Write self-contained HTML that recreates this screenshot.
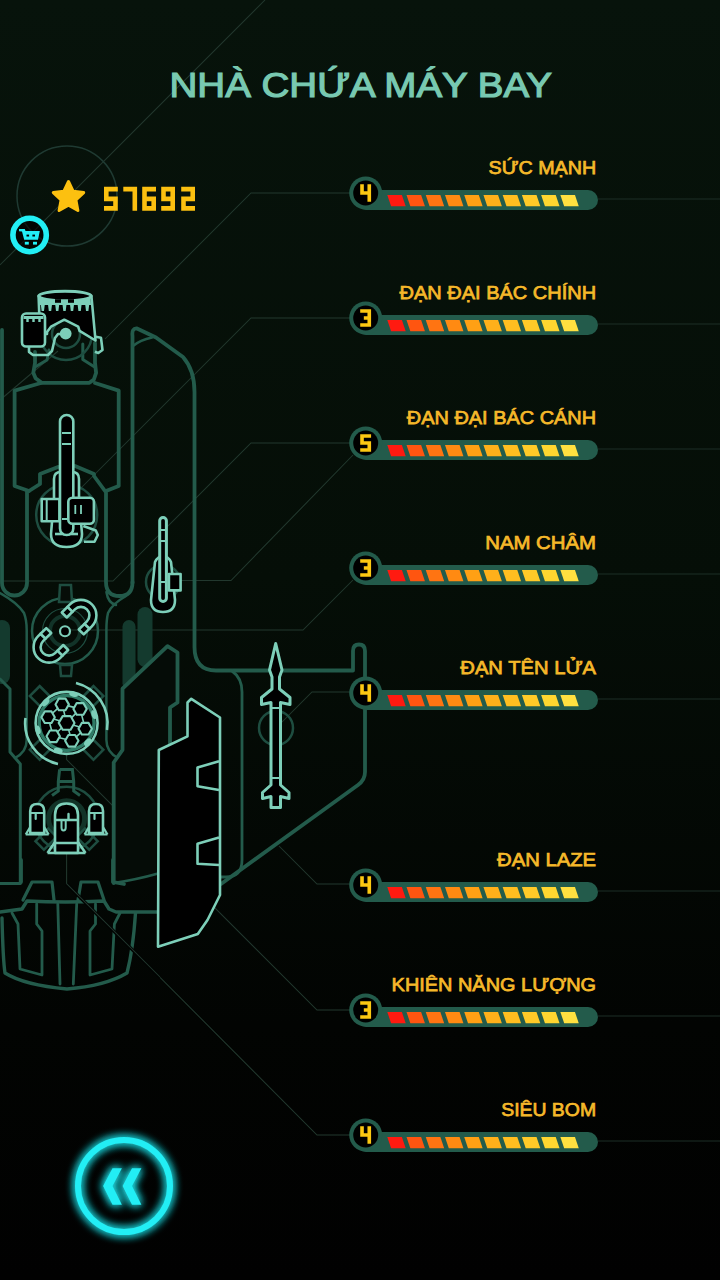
<!DOCTYPE html>
<html><head><meta charset="utf-8"><style>
html,body{margin:0;padding:0;background:#050b07;width:720px;height:1280px;overflow:hidden}
svg{display:block}
.title{font-family:"Liberation Sans",sans-serif;font-weight:normal;font-size:35.5px;fill:#78c9b1;stroke:#78c9b1;stroke-width:1.2}
.lbl{font-family:"Liberation Sans",sans-serif;font-weight:normal;font-size:19.1px;fill:#f5b82a;stroke:#f5b82a;stroke-width:0.75}
</style></head><body>
<svg width="720" height="1280" viewBox="0 0 720 1280">
<defs>
<linearGradient id="bg" x1="0" y1="0" x2="0" y2="1">
<stop offset="0" stop-color="#07130b"/><stop offset="0.45" stop-color="#050e07"/><stop offset="0.8" stop-color="#020402"/><stop offset="1" stop-color="#010101"/>
</linearGradient>
<filter id="glow" x="-50%" y="-50%" width="200%" height="200%">
<feGaussianBlur stdDeviation="5" result="b"/><feMerge><feMergeNode in="b"/><feMergeNode in="b"/><feMergeNode in="SourceGraphic"/></feMerge>
</filter>
</defs>
<rect width="720" height="1280" fill="url(#bg)"/>
<g fill="none" stroke="#22382e" stroke-width="1.05"><path d="M265 0L0 265"/><path d="M350 193H251L105 339"/><path d="M58 351L0 400"/><path d="M350 318H251L65 504"/><path d="M350 443H251L113 581H0"/><path d="M353 455L231 580.5H170"/><path d="M353 580L303 630H60"/><path d="M350 692H312L277 727"/><path d="M350 884H317L279 846"/><path d="M350 1010H317L66.6 759.6V752"/><path d="M350 1135H317L66.6 883.6V840"/></g><path d="M598 199H720M598 324H720M598 449H720M598 574H720M598 699H720M598 891H720M598 1016H720M598 1141H720" fill="none" stroke="#1c2f27" stroke-width="1.05"/><g fill="#143a2e"><rect x="-6" y="620" width="16" height="64" rx="8"/><rect x="122.5" y="620" width="13" height="70" rx="6.5"/><rect x="137.5" y="607" width="15" height="60" rx="7.5"/></g><g fill="none" stroke="#235b4b" stroke-width="3.8" stroke-linejoin="round" stroke-linecap="round"><path d="M2 330V583A12.5 12.5 0 0 0 27 583V491"/><path d="M41 383L14.6 390.6V486L29 491"/><path d="M95 383L118.7 390.6V486L106 491V582Q106 596 119.5 596Q132.5 596 132.5 582"/><path d="M35 352V363L33.3 372.8L35.6 378.3L41.7 382.8H89.4L93.9 379.4L96.1 372.8L95 362.8V343"/><path d="M82.8 344V359.4L95 367.2M35 367L47 360L49 350" stroke-width="3"/><path d="M29 491L40 484V474L58 467"/><path d="M105 491L94 476V474L75 466"/><path d="M132.5 583V336Q131.5 328 137 328.5L156 337.5L183 357Q194.5 370 194.5 392V647Q194.5 670.5 216 670.5H353V651Q353 644.5 359 644.5Q365 644.5 365 651V772Q365 780 358 785L221 884"/><path d="M133 346Q140 340 152 337.5" stroke-width="2.5"/><path d="M232 671Q242 678 242 692V860Q242 877 226 877H218" stroke-width="2.8"/><path d="M0 593Q18 603 24 613Q26.7 620 26.7 630V740Q26.7 752 15 758" stroke-width="2.5"/><path d="M126 596Q112 604 108 613Q106.4 620 106.4 630V740Q106.4 752 118 758M106.4 592Q108 603 116 605" stroke-width="2.5"/><path d="M0 679L10 689V752L20.3 764V883.5H0" stroke-width="3"/><path d="M113.7 883V762.5L122.5 750V688.7L167.5 646.2L177.5 652.5V702.5L170 707.5V760L160 873Q135 880 113.7 883Z" fill="#050c07" stroke="none"/><path d="M113.7 883V762.5L122.5 750V688.7L167.5 646.2L177.5 652.5V702.5L170 707.5V760"/><path d="M113.7 883Q135 880 160 873" stroke-width="2.5"/><path d="M21 860V882M113 860V882L124 884"/><path d="M23 900L32 882H52L54 900M78 900L81 882H98L104 900" stroke-width="3.2"/><path d="M0 912L22 909L27 901Q65 903 104 901L109 909L116 912H160" stroke-width="3.4"/><path d="M2 918Q3 960 5 973Q24 985 67 989Q105 986 127 973Q133 950 135.5 913" stroke-width="3.4"/><path d="M12 913L18 924L20 969L42 975V931L36.7 924V904M57.8 904L60 984M76.7 904L73.3 984M95.5 904V924L90 931V975L112 969L114.4 924L120 913" stroke-width="2.8"/></g><path d="M66.6 884L160 977.4" stroke="#010302" stroke-width="3.2"/><g fill="none" stroke="#1e4d40" stroke-width="2.5"><circle cx="66" cy="334" r="14"/><circle cx="66" cy="334" r="26"/><circle cx="66.7" cy="515" r="30.5"/><circle cx="163" cy="582" r="17"/><circle cx="65" cy="631" r="33" stroke="#235b4b"/><circle cx="65" cy="631" r="22.5" stroke-width="1.2"/><circle cx="65" cy="631" r="15" stroke="#123328" stroke-width="4"/><circle cx="276" cy="728" r="17"/><circle cx="66.6" cy="818.7" r="32"/><circle cx="66.6" cy="818.7" r="18" stroke="#123328" stroke-width="5"/><path d="M60 585H71L72 602H59Z M60 665H72L71 676H61Z" fill="#060d08"/><path d="M59.6 769.5H72.4L73.7 781.6V791L80 795.5M59.6 769.5L58.3 781.6V791L52 795.5M58.3 781.6H73.7" stroke="#235b4b" stroke-width="3"/><g transform="translate(66.6 722.9) rotate(45)"><rect x="-45" y="-7" width="90" height="14"/><rect x="-7" y="-45" width="14" height="90"/></g><g transform="translate(66.6 818.7) rotate(45)"><rect x="20" y="-6" width="18" height="12"/><rect x="-6" y="20" width="12" height="18"/></g></g><g fill="#000" stroke="#7dcfb9" stroke-width="2.6" stroke-linejoin="round"><path d="M38.6 296L40 334H47V332L51 326.7L64.3 319.7L78.2 326.7L79.6 330.8L95.5 340.5L91.4 296Z"/><ellipse cx="65" cy="296" rx="26.2" ry="4.8" stroke-width="3"/><path d="M40 297.5Q65 305 90.5 297.5L91 305H39.8Z" fill="#7dcfb9" stroke="none"/><rect x="55" y="299.2" width="6" height="3.6" fill="#000" stroke="none"/><rect x="68" y="299.2" width="6" height="3.6" fill="#000" stroke="none"/><path d="M40.8 304.5L44.8 304.5L44.0 311L41.6 311ZM48.0 304.5L52.0 304.5L51.2 311L48.8 311ZM55.2 304.5L59.2 304.5L58.4 311L56.0 311ZM62.5 304.5L66.5 304.5L65.7 311L63.3 311ZM70.0 304.5L74.0 304.5L73.2 311L70.8 311ZM77.6 304.5L81.6 304.5L80.8 311L78.4 311ZM85.2 304.5L89.2 304.5L88.4 311L86.0 311Z" fill="#7dcfb9" stroke="none"/><path d="M94.2 336.4L101 337.8L102.5 350L98.3 353L94.9 351.7" fill="none"/><rect x="22" y="313.5" width="23" height="33" rx="4"/><path d="M23.5 317.5H43.5" stroke-width="3"/><path d="M27.5 318V322M33.5 318V322M39.5 318V322" stroke-width="2.4"/><path d="M29 346V352L33 355H48L52 351L55 338L58 334H62" fill="none"/><circle cx="65.7" cy="333.6" r="4.6" fill="#7dcfb9"/><path d="M54 498V479Q54 472 61 472H72Q79 472 79 479V498L82 534Q82 547 66.5 547Q51 547 51 534Z"/><path d="M55 534H78" fill="none"/><rect x="60" y="415" width="13.3" height="120" rx="6.6"/><path d="M62 433H71M62 444H71M62 519H71" stroke-width="2"/><rect x="41.7" y="499" width="17.7" height="22.2"/><path d="M46.7 499V521" stroke-width="2"/><rect x="68.3" y="497.8" width="25.6" height="26" rx="4"/><path d="M75.3 505V514M81 505V514" stroke-width="1.8"/><path d="M83.3 526L95.8 530.5L97.8 535L94.5 541.7H84" fill="none"/><path d="M155 562Q158 556 163 556Q168 556 171 562L175 600Q175 612 163 612Q151 612 151 600Z"/><rect x="168.9" y="574" width="11.7" height="16.4"/><rect x="159.7" y="517.5" width="6.7" height="84" rx="3.3" stroke-width="3"/><path d="M160 530H166.5M160 541H166.5M160 582H166.5" stroke-width="2"/><g transform="translate(65 631.25) rotate(45)"><path d="M-15.5 -19V-22.5A15.5 15.5 0 0 1 15.5 -22.5V-19H8.5V-22.5A8.5 8.5 0 0 0 -8.5 -22.5V-19Z"/><rect x="-15.5" y="-19" width="7" height="8"/><rect x="8.5" y="-19" width="7" height="8"/></g><g transform="translate(65 631.25) rotate(225)"><path d="M-15.5 -19V-22.5A15.5 15.5 0 0 1 15.5 -22.5V-19H8.5V-22.5A8.5 8.5 0 0 0 -8.5 -22.5V-19Z"/><rect x="-15.5" y="-19" width="7" height="8"/><rect x="8.5" y="-19" width="7" height="8"/></g><circle cx="65" cy="631.25" r="5" stroke-width="2.2"/><circle cx="66.6" cy="722.9" r="31"/><circle cx="66.6" cy="722.9" r="27.5" fill="none" stroke="#2f7b66" stroke-width="3.5"/><path d="M62.2 704.4L80.1 708.9M62.2 704.4L48.1 717.2M62.2 704.4L66.6 722.9M80.1 708.9L66.6 722.9M80.1 708.9L85.2 728.7M48.1 717.2L66.6 722.9M48.1 717.2L53.2 736.3M66.6 722.9L85.2 728.7M66.6 722.9L53.2 736.3M66.6 722.9L71.8 740.8M85.2 728.7L71.8 740.8M53.2 736.3L71.8 740.8" stroke-width="1.6" fill="none"/><polygon points="68.9,704.4 65.5,710.2 58.8,710.2 55.5,704.4 58.8,698.6 65.5,698.6" stroke-width="2.1"/><polygon points="86.8,708.9 83.4,714.7 76.7,714.7 73.4,708.9 76.7,703.1 83.4,703.1" stroke-width="2.1"/><polygon points="54.8,717.2 51.5,723.0 44.8,723.0 41.4,717.2 44.8,711.4 51.5,711.4" stroke-width="2.1"/><polygon points="74.5,722.9 70.6,729.8 62.7,729.8 58.7,722.9 62.7,716.1 70.6,716.1" stroke-width="2.1"/><polygon points="91.9,728.7 88.5,734.5 81.8,734.5 78.5,728.7 81.8,722.9 88.5,722.9" stroke-width="2.1"/><polygon points="59.9,736.3 56.6,742.1 49.9,742.1 46.5,736.3 49.9,730.5 56.6,730.5" stroke-width="2.1"/><polygon points="78.5,740.8 75.1,746.6 68.4,746.6 65.1,740.8 68.4,735.0 75.1,735.0" stroke-width="2.1"/><ellipse cx="73.7" cy="694.2" rx="4.5" ry="2.6" transform="rotate(14 73.7 694.2)" fill="#7dcfb9" stroke="none"/><ellipse cx="45.6" cy="702.5" rx="4.5" ry="2.6" transform="rotate(-46 45.6 702.5)" fill="#7dcfb9" stroke="none"/><ellipse cx="94.1" cy="714.6" rx="4.5" ry="2.6" transform="rotate(73 94.1 714.6)" fill="#7dcfb9" stroke="none"/><ellipse cx="37.9" cy="729.9" rx="4.5" ry="2.6" transform="rotate(256 37.9 729.9)" fill="#7dcfb9" stroke="none"/><ellipse cx="87.7" cy="742.1" rx="4.5" ry="2.6" transform="rotate(132 87.7 742.1)" fill="#7dcfb9" stroke="none"/><ellipse cx="58.3" cy="750.4" rx="4.5" ry="2.6" transform="rotate(197 58.3 750.4)" fill="#7dcfb9" stroke="none"/><path d="M76 683A41.5 41.5 0 0 1 107 730" fill="none" stroke-width="2.6"/><path d="M25.5 718A41.5 41.5 0 0 0 58 764" fill="none" stroke-width="2.6"/><path d="M55 853V815Q55 803.5 66.5 803.5Q78 803.5 78 815V853Z"/><path d="M55 820H78M55 843H78M47.5 853L55 842M85.5 853L78 842M47.5 853H85.5" fill="none"/><path d="M61.5 820V827.5Q61.5 830.5 63.5 830.5Q65.7 830.5 65.7 827.5V820" fill="none" stroke-width="2"/><path d="M68.5 814V819" stroke-width="2.4" stroke-linecap="round"/><path d="M30.2 833V811Q30.2 804 37.2 804Q44.2 804 44.2 811V833Z"/><path d="M30.2 813H44.2M25.7 834.5L30.2 827M48.7 834.5L44.2 827M25.7 834.5H48.7" fill="none" stroke-width="2.2"/><path d="M35.7 813V819" stroke-width="2.2" stroke-linecap="round"/><path d="M89 833V811Q89 804 96 804Q103 804 103 811V833Z"/><path d="M89 813H103M84.5 834.5L89 827M107.5 834.5L103 827M84.5 834.5H107.5" fill="none" stroke-width="2.2"/><path d="M94.5 813V819" stroke-width="2.2" stroke-linecap="round"/><path d="M275.7 643.5L282 670L279.5 677V689L290 697.5V704.5L280.5 702.5V785L289 792.5V798.5L280.5 796.5V807.5H271V796.5L262.5 798.5V792.5L271 785V702.5L261.5 704.5V697.5L272 689V677L269.5 670Z" stroke-width="3"/><path d="M272 708H280M272 778H280" stroke-width="2"/><path d="M158.8 750L187.5 736.3V702.5L191.3 698.8L220 717.5V895L207.5 920L197.8 934L158 946.7Z"/><path d="M219 761.3L197.5 767.5V786.3L219 790M219 837.5L197.5 843.8V863.8L219 865" fill="none"/></g><path d="M66.6 883.6L160 977" fill="none" stroke="#22382e" stroke-width="1.05"/><rect x="356" y="190" width="242" height="20" rx="10" fill="#235b4b"/><circle cx="365.7" cy="193" r="16.5" fill="#235b4b"/><circle cx="365.7" cy="193" r="12.5" fill="#000"/><path d="M360.20 184.20h3.63v3.52h-3.63zM367.46 184.20h3.63v3.52h-3.63zM360.20 187.72h3.63v3.52h-3.63zM367.46 187.72h3.63v3.52h-3.63zM360.20 191.24h3.63v3.52h-3.63zM363.83 191.24h3.63v3.52h-3.63zM367.46 191.24h3.63v3.52h-3.63zM367.46 194.76h3.63v3.52h-3.63zM367.46 198.28h3.63v3.52h-3.63z" fill="#fcc812"/><path d="M387.30 195h14.6l3.8 11.3h-14.6z" fill="#ff1a10"/><path d="M406.53 195h14.6l3.8 11.3h-14.6z" fill="#ff5510"/><path d="M425.76 195h14.6l3.8 11.3h-14.6z" fill="#ff7412"/><path d="M444.99 195h14.6l3.8 11.3h-14.6z" fill="#ff8a12"/><path d="M464.22 195h14.6l3.8 11.3h-14.6z" fill="#ffa014"/><path d="M483.45 195h14.6l3.8 11.3h-14.6z" fill="#ffb01a"/><path d="M502.68 195h14.6l3.8 11.3h-14.6z" fill="#ffbe20"/><path d="M521.91 195h14.6l3.8 11.3h-14.6z" fill="#ffca28"/><path d="M541.14 195h14.6l3.8 11.3h-14.6z" fill="#ffd630"/><path d="M560.37 195h14.6l3.8 11.3h-14.6z" fill="#ffe040"/><text x="488.5" y="173.7" class="lbl" textLength="107.6" lengthAdjust="spacingAndGlyphs">SỨC MẠNH</text><rect x="356" y="315" width="242" height="20" rx="10" fill="#235b4b"/><circle cx="365.7" cy="318" r="16.5" fill="#235b4b"/><circle cx="365.7" cy="318" r="12.5" fill="#000"/><path d="M360.20 309.20h3.63v3.52h-3.63zM363.83 309.20h3.63v3.52h-3.63zM367.46 309.20h3.63v3.52h-3.63zM367.46 312.72h3.63v3.52h-3.63zM363.83 316.24h3.63v3.52h-3.63zM367.46 316.24h3.63v3.52h-3.63zM367.46 319.76h3.63v3.52h-3.63zM360.20 323.28h3.63v3.52h-3.63zM363.83 323.28h3.63v3.52h-3.63zM367.46 323.28h3.63v3.52h-3.63z" fill="#fcc812"/><path d="M387.30 320h14.6l3.8 11.3h-14.6z" fill="#ff1a10"/><path d="M406.53 320h14.6l3.8 11.3h-14.6z" fill="#ff5510"/><path d="M425.76 320h14.6l3.8 11.3h-14.6z" fill="#ff7412"/><path d="M444.99 320h14.6l3.8 11.3h-14.6z" fill="#ff8a12"/><path d="M464.22 320h14.6l3.8 11.3h-14.6z" fill="#ffa014"/><path d="M483.45 320h14.6l3.8 11.3h-14.6z" fill="#ffb01a"/><path d="M502.68 320h14.6l3.8 11.3h-14.6z" fill="#ffbe20"/><path d="M521.91 320h14.6l3.8 11.3h-14.6z" fill="#ffca28"/><path d="M541.14 320h14.6l3.8 11.3h-14.6z" fill="#ffd630"/><path d="M560.37 320h14.6l3.8 11.3h-14.6z" fill="#ffe040"/><text x="399.5" y="298.7" class="lbl" textLength="196.6" lengthAdjust="spacingAndGlyphs">ĐẠN ĐẠI BÁC CHÍNH</text><rect x="356" y="440" width="242" height="20" rx="10" fill="#235b4b"/><circle cx="365.7" cy="443" r="16.5" fill="#235b4b"/><circle cx="365.7" cy="443" r="12.5" fill="#000"/><path d="M360.20 434.20h3.63v3.52h-3.63zM363.83 434.20h3.63v3.52h-3.63zM367.46 434.20h3.63v3.52h-3.63zM360.20 437.72h3.63v3.52h-3.63zM360.20 441.24h3.63v3.52h-3.63zM363.83 441.24h3.63v3.52h-3.63zM367.46 441.24h3.63v3.52h-3.63zM367.46 444.76h3.63v3.52h-3.63zM360.20 448.28h3.63v3.52h-3.63zM363.83 448.28h3.63v3.52h-3.63zM367.46 448.28h3.63v3.52h-3.63z" fill="#fcc812"/><path d="M387.30 445h14.6l3.8 11.3h-14.6z" fill="#ff1a10"/><path d="M406.53 445h14.6l3.8 11.3h-14.6z" fill="#ff5510"/><path d="M425.76 445h14.6l3.8 11.3h-14.6z" fill="#ff7412"/><path d="M444.99 445h14.6l3.8 11.3h-14.6z" fill="#ff8a12"/><path d="M464.22 445h14.6l3.8 11.3h-14.6z" fill="#ffa014"/><path d="M483.45 445h14.6l3.8 11.3h-14.6z" fill="#ffb01a"/><path d="M502.68 445h14.6l3.8 11.3h-14.6z" fill="#ffbe20"/><path d="M521.91 445h14.6l3.8 11.3h-14.6z" fill="#ffca28"/><path d="M541.14 445h14.6l3.8 11.3h-14.6z" fill="#ffd630"/><path d="M560.37 445h14.6l3.8 11.3h-14.6z" fill="#ffe040"/><text x="406.8" y="423.7" class="lbl" textLength="189.3" lengthAdjust="spacingAndGlyphs">ĐẠN ĐẠI BÁC CÁNH</text><rect x="356" y="565" width="242" height="20" rx="10" fill="#235b4b"/><circle cx="365.7" cy="568" r="16.5" fill="#235b4b"/><circle cx="365.7" cy="568" r="12.5" fill="#000"/><path d="M360.20 559.20h3.63v3.52h-3.63zM363.83 559.20h3.63v3.52h-3.63zM367.46 559.20h3.63v3.52h-3.63zM367.46 562.72h3.63v3.52h-3.63zM363.83 566.24h3.63v3.52h-3.63zM367.46 566.24h3.63v3.52h-3.63zM367.46 569.76h3.63v3.52h-3.63zM360.20 573.28h3.63v3.52h-3.63zM363.83 573.28h3.63v3.52h-3.63zM367.46 573.28h3.63v3.52h-3.63z" fill="#fcc812"/><path d="M387.30 570h14.6l3.8 11.3h-14.6z" fill="#ff1a10"/><path d="M406.53 570h14.6l3.8 11.3h-14.6z" fill="#ff5510"/><path d="M425.76 570h14.6l3.8 11.3h-14.6z" fill="#ff7412"/><path d="M444.99 570h14.6l3.8 11.3h-14.6z" fill="#ff8a12"/><path d="M464.22 570h14.6l3.8 11.3h-14.6z" fill="#ffa014"/><path d="M483.45 570h14.6l3.8 11.3h-14.6z" fill="#ffb01a"/><path d="M502.68 570h14.6l3.8 11.3h-14.6z" fill="#ffbe20"/><path d="M521.91 570h14.6l3.8 11.3h-14.6z" fill="#ffca28"/><path d="M541.14 570h14.6l3.8 11.3h-14.6z" fill="#ffd630"/><path d="M560.37 570h14.6l3.8 11.3h-14.6z" fill="#ffe040"/><text x="485.2" y="548.7" class="lbl" textLength="110.9" lengthAdjust="spacingAndGlyphs">NAM CHÂM</text><rect x="356" y="690" width="242" height="20" rx="10" fill="#235b4b"/><circle cx="365.7" cy="693" r="16.5" fill="#235b4b"/><circle cx="365.7" cy="693" r="12.5" fill="#000"/><path d="M360.20 684.20h3.63v3.52h-3.63zM367.46 684.20h3.63v3.52h-3.63zM360.20 687.72h3.63v3.52h-3.63zM367.46 687.72h3.63v3.52h-3.63zM360.20 691.24h3.63v3.52h-3.63zM363.83 691.24h3.63v3.52h-3.63zM367.46 691.24h3.63v3.52h-3.63zM367.46 694.76h3.63v3.52h-3.63zM367.46 698.28h3.63v3.52h-3.63z" fill="#fcc812"/><path d="M387.30 695h14.6l3.8 11.3h-14.6z" fill="#ff1a10"/><path d="M406.53 695h14.6l3.8 11.3h-14.6z" fill="#ff5510"/><path d="M425.76 695h14.6l3.8 11.3h-14.6z" fill="#ff7412"/><path d="M444.99 695h14.6l3.8 11.3h-14.6z" fill="#ff8a12"/><path d="M464.22 695h14.6l3.8 11.3h-14.6z" fill="#ffa014"/><path d="M483.45 695h14.6l3.8 11.3h-14.6z" fill="#ffb01a"/><path d="M502.68 695h14.6l3.8 11.3h-14.6z" fill="#ffbe20"/><path d="M521.91 695h14.6l3.8 11.3h-14.6z" fill="#ffca28"/><path d="M541.14 695h14.6l3.8 11.3h-14.6z" fill="#ffd630"/><path d="M560.37 695h14.6l3.8 11.3h-14.6z" fill="#ffe040"/><text x="460.3" y="673.7" class="lbl" textLength="135.8" lengthAdjust="spacingAndGlyphs">ĐẠN TÊN LỬA</text><rect x="356" y="882" width="242" height="20" rx="10" fill="#235b4b"/><circle cx="365.7" cy="885" r="16.5" fill="#235b4b"/><circle cx="365.7" cy="885" r="12.5" fill="#000"/><path d="M360.20 876.20h3.63v3.52h-3.63zM367.46 876.20h3.63v3.52h-3.63zM360.20 879.72h3.63v3.52h-3.63zM367.46 879.72h3.63v3.52h-3.63zM360.20 883.24h3.63v3.52h-3.63zM363.83 883.24h3.63v3.52h-3.63zM367.46 883.24h3.63v3.52h-3.63zM367.46 886.76h3.63v3.52h-3.63zM367.46 890.28h3.63v3.52h-3.63z" fill="#fcc812"/><path d="M387.30 887h14.6l3.8 11.3h-14.6z" fill="#ff1a10"/><path d="M406.53 887h14.6l3.8 11.3h-14.6z" fill="#ff5510"/><path d="M425.76 887h14.6l3.8 11.3h-14.6z" fill="#ff7412"/><path d="M444.99 887h14.6l3.8 11.3h-14.6z" fill="#ff8a12"/><path d="M464.22 887h14.6l3.8 11.3h-14.6z" fill="#ffa014"/><path d="M483.45 887h14.6l3.8 11.3h-14.6z" fill="#ffb01a"/><path d="M502.68 887h14.6l3.8 11.3h-14.6z" fill="#ffbe20"/><path d="M521.91 887h14.6l3.8 11.3h-14.6z" fill="#ffca28"/><path d="M541.14 887h14.6l3.8 11.3h-14.6z" fill="#ffd630"/><path d="M560.37 887h14.6l3.8 11.3h-14.6z" fill="#ffe040"/><text x="497.0" y="865.7" class="lbl" textLength="99.1" lengthAdjust="spacingAndGlyphs">ĐẠN LAZE</text><rect x="356" y="1007" width="242" height="20" rx="10" fill="#235b4b"/><circle cx="365.7" cy="1010" r="16.5" fill="#235b4b"/><circle cx="365.7" cy="1010" r="12.5" fill="#000"/><path d="M360.20 1001.20h3.63v3.52h-3.63zM363.83 1001.20h3.63v3.52h-3.63zM367.46 1001.20h3.63v3.52h-3.63zM367.46 1004.72h3.63v3.52h-3.63zM363.83 1008.24h3.63v3.52h-3.63zM367.46 1008.24h3.63v3.52h-3.63zM367.46 1011.76h3.63v3.52h-3.63zM360.20 1015.28h3.63v3.52h-3.63zM363.83 1015.28h3.63v3.52h-3.63zM367.46 1015.28h3.63v3.52h-3.63z" fill="#fcc812"/><path d="M387.30 1012h14.6l3.8 11.3h-14.6z" fill="#ff1a10"/><path d="M406.53 1012h14.6l3.8 11.3h-14.6z" fill="#ff5510"/><path d="M425.76 1012h14.6l3.8 11.3h-14.6z" fill="#ff7412"/><path d="M444.99 1012h14.6l3.8 11.3h-14.6z" fill="#ff8a12"/><path d="M464.22 1012h14.6l3.8 11.3h-14.6z" fill="#ffa014"/><path d="M483.45 1012h14.6l3.8 11.3h-14.6z" fill="#ffb01a"/><path d="M502.68 1012h14.6l3.8 11.3h-14.6z" fill="#ffbe20"/><path d="M521.91 1012h14.6l3.8 11.3h-14.6z" fill="#ffca28"/><path d="M541.14 1012h14.6l3.8 11.3h-14.6z" fill="#ffd630"/><path d="M560.37 1012h14.6l3.8 11.3h-14.6z" fill="#ffe040"/><text x="391.6" y="990.7" class="lbl" textLength="204.5" lengthAdjust="spacingAndGlyphs">KHIÊN NĂNG LƯỢNG</text><rect x="356" y="1132" width="242" height="20" rx="10" fill="#235b4b"/><circle cx="365.7" cy="1135" r="16.5" fill="#235b4b"/><circle cx="365.7" cy="1135" r="12.5" fill="#000"/><path d="M360.20 1126.20h3.63v3.52h-3.63zM367.46 1126.20h3.63v3.52h-3.63zM360.20 1129.72h3.63v3.52h-3.63zM367.46 1129.72h3.63v3.52h-3.63zM360.20 1133.24h3.63v3.52h-3.63zM363.83 1133.24h3.63v3.52h-3.63zM367.46 1133.24h3.63v3.52h-3.63zM367.46 1136.76h3.63v3.52h-3.63zM367.46 1140.28h3.63v3.52h-3.63z" fill="#fcc812"/><path d="M387.30 1137h14.6l3.8 11.3h-14.6z" fill="#ff1a10"/><path d="M406.53 1137h14.6l3.8 11.3h-14.6z" fill="#ff5510"/><path d="M425.76 1137h14.6l3.8 11.3h-14.6z" fill="#ff7412"/><path d="M444.99 1137h14.6l3.8 11.3h-14.6z" fill="#ff8a12"/><path d="M464.22 1137h14.6l3.8 11.3h-14.6z" fill="#ffa014"/><path d="M483.45 1137h14.6l3.8 11.3h-14.6z" fill="#ffb01a"/><path d="M502.68 1137h14.6l3.8 11.3h-14.6z" fill="#ffbe20"/><path d="M521.91 1137h14.6l3.8 11.3h-14.6z" fill="#ffca28"/><path d="M541.14 1137h14.6l3.8 11.3h-14.6z" fill="#ffd630"/><path d="M560.37 1137h14.6l3.8 11.3h-14.6z" fill="#ffe040"/><text x="501.2" y="1115.7" class="lbl" textLength="94.9" lengthAdjust="spacingAndGlyphs">SIÊU BOM</text><text x="169.5" y="97" class="title" textLength="382.5" lengthAdjust="spacingAndGlyphs">NHÀ CHỨA MÁY BAY</text><circle cx="67" cy="196" r="50" fill="none" stroke="#1f3a32" stroke-width="1.5"/><polygon points="68.50,181.50 73.08,191.19 83.72,192.56 75.92,199.91 77.90,210.44 68.50,205.30 59.10,210.44 61.08,199.91 53.28,192.56 63.92,191.19" fill="#fcc010" stroke="#fcc010" stroke-width="3" stroke-linejoin="round"/><path d="M104.00 186.80h4.60v4.80h-4.60zM108.60 186.80h4.60v4.80h-4.60zM113.20 186.80h4.60v4.80h-4.60zM104.00 191.60h4.60v4.80h-4.60zM104.00 196.40h4.60v4.80h-4.60zM108.60 196.40h4.60v4.80h-4.60zM113.20 196.40h4.60v4.80h-4.60zM113.20 201.20h4.60v4.80h-4.60zM104.00 206.00h4.60v4.80h-4.60zM108.60 206.00h4.60v4.80h-4.60zM113.20 206.00h4.60v4.80h-4.60z" fill="#fcc010"/><path d="M123.30 186.80h4.60v4.80h-4.60zM127.90 186.80h4.60v4.80h-4.60zM132.50 186.80h4.60v4.80h-4.60zM132.50 191.60h4.60v4.80h-4.60zM132.50 196.40h4.60v4.80h-4.60zM132.50 201.20h4.60v4.80h-4.60zM132.50 206.00h4.60v4.80h-4.60z" fill="#fcc010"/><path d="M142.20 186.80h4.60v4.80h-4.60zM146.80 186.80h4.60v4.80h-4.60zM151.40 186.80h4.60v4.80h-4.60zM142.20 191.60h4.60v4.80h-4.60zM142.20 196.40h4.60v4.80h-4.60zM146.80 196.40h4.60v4.80h-4.60zM151.40 196.40h4.60v4.80h-4.60zM142.20 201.20h4.60v4.80h-4.60zM151.40 201.20h4.60v4.80h-4.60zM142.20 206.00h4.60v4.80h-4.60zM146.80 206.00h4.60v4.80h-4.60zM151.40 206.00h4.60v4.80h-4.60z" fill="#fcc010"/><path d="M161.20 186.80h4.60v4.80h-4.60zM165.80 186.80h4.60v4.80h-4.60zM170.40 186.80h4.60v4.80h-4.60zM161.20 191.60h4.60v4.80h-4.60zM170.40 191.60h4.60v4.80h-4.60zM161.20 196.40h4.60v4.80h-4.60zM165.80 196.40h4.60v4.80h-4.60zM170.40 196.40h4.60v4.80h-4.60zM170.40 201.20h4.60v4.80h-4.60zM161.20 206.00h4.60v4.80h-4.60zM165.80 206.00h4.60v4.80h-4.60zM170.40 206.00h4.60v4.80h-4.60z" fill="#fcc010"/><path d="M181.20 186.80h4.60v4.80h-4.60zM185.80 186.80h4.60v4.80h-4.60zM190.40 186.80h4.60v4.80h-4.60zM190.40 191.60h4.60v4.80h-4.60zM181.20 196.40h4.60v4.80h-4.60zM185.80 196.40h4.60v4.80h-4.60zM190.40 196.40h4.60v4.80h-4.60zM181.20 201.20h4.60v4.80h-4.60zM181.20 206.00h4.60v4.80h-4.60zM185.80 206.00h4.60v4.80h-4.60zM190.40 206.00h4.60v4.80h-4.60z" fill="#fcc010"/><circle cx="29.6" cy="235" r="16.7" fill="#000" fill-opacity="0.6" stroke="#22eff5" stroke-width="5.6"/><path d="M19 229H24.8L25.5 231H39.8L38 239.7H24.2L22 231.5L19 231.3Z" fill="#22eff5"/><rect x="26.5" y="234.6" width="2.6" height="1.9" fill="#000"/><rect x="32.4" y="234.6" width="2.6" height="1.9" fill="#000"/><rect x="24.8" y="241.8" width="4" height="2.8" fill="#22eff5"/><rect x="33" y="241.8" width="4" height="2.8" fill="#22eff5"/><g filter="url(#glow)"><circle cx="124" cy="1186" r="46" fill="none" stroke="#22eef5" stroke-width="6"/><path d="M103.1 1186L112.5 1168.3H121.9L112.5 1186L121.9 1204.8H112.5Z M122.6 1186L132 1168.3H141.4L132 1186L141.4 1204.8H132Z" fill="#22eef5"/></g>
</svg>
</body></html>
